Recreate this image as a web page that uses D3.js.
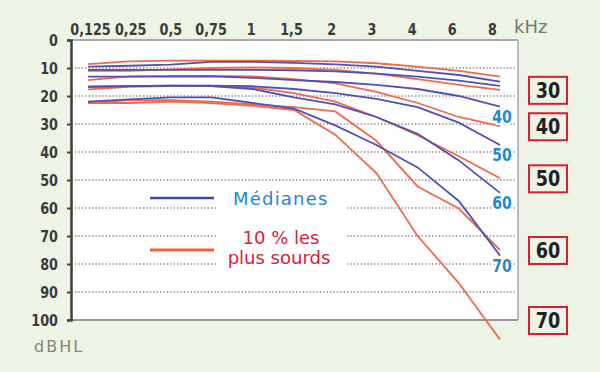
<!DOCTYPE html>
<html>
<head>
<meta charset="utf-8">
<script src="https://cdn.jsdelivr.net/npm/d3@7/dist/d3.min.js"></script>
<style>
  html, body { margin: 0; padding: 0; background: #edf4e6; }
  svg { display: block; }
  .cond { font-family: 'DejaVu Sans', sans-serif; font-weight: bold; }
</style>
</head>
<body>
<svg id="chart" width="600" height="372"></svg>
<script>
// ---- data ----
const freqLabels = ["0,125","0,25","0,5","0,75","1","1,5","2","3","4","6","8"];
const yTicks = [0,10,20,30,40,50,60,70,80,90,100];
const ageGroups = [20,30,40,50,60,70];

// Médianes (blue), dB HL per frequency
const median20 = [9.5, 9.2, 8.8, 7.8, 7.8, 8.2, 8.7, 9.5, 11, 12.5, 14.9];
const median30 = [10.7, 10.7, 10.7, 10.7, 10.7, 10.8, 11.2, 12, 13.1, 14.5, 16.4];
const median40 = [13.1, 13.1, 13.1, 13, 13.5, 14.3, 15, 16, 17.5, 20, 23.8];
const median50 = [16.7, 16.5, 16.3, 16.3, 16.5, 17.5, 19, 21, 24, 29.5, 37.5];
const median60 = [16.7, 16.5, 16.3, 16.5, 17.5, 20.5, 23, 27.5, 33.5, 43, 54.6];
const median70 = [22, 21.2, 20.5, 20.5, 22.5, 24.5, 30.5, 37.5, 45.5, 57.5, 77];

// 10 % les plus sourds (red)
const worst20 = [8.6, 7.6, 7.4, 7.4, 7.4, 7.5, 7.6, 8.3, 9.5, 11, 13.1];
const worst30 = [11, 11, 10.5, 10, 9.8, 10, 10.7, 12, 14, 16, 17.8];
const worst40 = [14.3, 13, 12.8, 12.8, 13, 14, 15.5, 18.5, 22.5, 27.5, 30.8];
const worst50 = [17.6, 16.7, 16.5, 16.5, 17, 19, 22, 27.5, 34, 41.5, 49.4];
const worst60 = [22.5, 21.5, 21.5, 22, 23, 24, 25.5, 36, 52.3, 60.2, 75];
const worst70 = [22.5, 22.5, 22, 22.5, 23.5, 25, 33.8, 47.5, 70, 86.8, 107];

const medians = [median20, median30, median40, median50, median60, median70];
const worsts  = [worst20, worst30, worst40, worst50, worst60, worst70];
const medianLabelAges = [40,50,60,70];
const boxAges = [30,40,50,60,70];

// ---- drawing ----
const svg = d3.select("#chart");
const xData = d3.scalePoint().domain(freqLabels).range([88, 500]);
const xTick = d3.scalePoint().domain(freqLabels).range([90, 492]);
const y = d3.scaleLinear().domain([0, 100]).range([40, 320]);

const plotL = 72, plotR = 518;
const SX = 0.8; // horizontal squeeze to imitate a condensed bold face

// plot background
svg.append("rect").attr("x", plotL).attr("y", y(0)).attr("width", plotR - plotL).attr("height", y(100) - y(0))
  .attr("fill", "#ffffff");

// grid
svg.append("g").selectAll("line").data(yTicks.filter(d => d > 0 && d < 100)).join("line")
  .attr("x1", plotL + 3).attr("x2", plotR - 2)
  .attr("y1", d => y(d)).attr("y2", d => y(d))
  .attr("stroke", "#8a8a8a").attr("stroke-width", 1.3).attr("stroke-dasharray", "1.4,2");

// borders
svg.append("line").attr("x1", plotL).attr("x2", plotR).attr("y1", y(0)).attr("y2", y(0))
  .attr("stroke", "#a9a9a9").attr("stroke-width", 2);
svg.append("line").attr("x1", plotR).attr("x2", plotR).attr("y1", y(0)).attr("y2", y(100))
  .attr("stroke", "#a9a9a9").attr("stroke-width", 1.5);
svg.append("line").attr("x1", plotL).attr("x2", plotR).attr("y1", y(100)).attr("y2", y(100))
  .attr("stroke", "#9a9a9a").attr("stroke-width", 2);

// white block behind legend text (interrupts grid)
svg.append("rect").attr("x", 216).attr("y", 187).attr("width", 131).attr("height", 83).attr("fill", "#ffffff");

// y axis
const yAxis = svg.append("g").attr("transform", `translate(${plotL - 1},0)`)
  .call(d3.axisLeft(y).tickValues(yTicks).tickSize(4).tickPadding(9));
yAxis.select(".domain").attr("stroke", "#444").attr("stroke-width", 2.6);
yAxis.selectAll(".tick line").attr("stroke", "#444").attr("stroke-width", 2);
yAxis.selectAll("text").attr("class", "cond").attr("font-size", 16).attr("fill", "#3a3a3a")
  .attr("x", -13 / SX).attr("transform", `scale(${SX},1)`);

// x axis (top labels)
const xAxis = svg.append("g").attr("transform", "translate(0,35)")
  .call(d3.axisTop(xTick).tickSize(0).tickPadding(0));
xAxis.select(".domain").remove();
xAxis.selectAll("text").attr("class", "cond").attr("font-size", 16).attr("fill", "#3a3a3a")
  .attr("transform", `scale(${SX},1)`);

svg.append("text").attr("x", 514).attr("y", 33).text("kHz")
  .attr("font-family", "'DejaVu Sans', sans-serif").attr("font-size", 18).attr("fill", "#6d7d66");
svg.append("text").attr("x", 34).attr("y", 352).text("dBHL")
  .attr("font-family", "'DejaVu Sans', sans-serif").attr("font-size", 16).attr("letter-spacing", 2)
  .attr("fill", "#7b8a74");

// lines
const line = d3.line().x((d, i) => xData(freqLabels[i])).y(d => y(d));
svg.append("g").selectAll("path").data(worsts).join("path")
  .attr("d", line).attr("fill", "none").attr("stroke", "#f06a4a").attr("stroke-width", 1.8);
svg.append("g").selectAll("path").data(medians).join("path")
  .attr("d", line).attr("fill", "none").attr("stroke", "#5050b8").attr("stroke-width", 1.8);

// median labels
const last = arr => arr[arr.length - 1];
svg.append("g").selectAll("g").data(medianLabelAges).join("g")
  .attr("transform", a => `translate(${xData(last(freqLabels)) + 2},${y(last(medians[ageGroups.indexOf(a)])) + 10})`)
  .append("text")
  .attr("class", "cond")
  .attr("transform", "scale(0.78,1)")
  .attr("dy", "0.35em").attr("text-anchor", "middle")
  .attr("font-size", 18).attr("fill", "#2188d4")
  .attr("stroke", "#ffffff").attr("stroke-width", 4).attr("paint-order", "stroke")
  .text(d => d);

// boxed age labels
const boxes = svg.append("g").selectAll("g").data(boxAges).join("g")
  .attr("transform", a => `translate(548,${y(Math.min(100, last(worsts[ageGroups.indexOf(a)])))})`);
boxes.append("rect").attr("x", -19).attr("y", -13).attr("width", 38).attr("height", 27)
  .attr("fill", "none").attr("stroke", "#d42030").attr("stroke-width", 2);
boxes.append("text").attr("class", "cond").attr("text-anchor", "middle").attr("dy", "0.36em")
  .attr("transform", "scale(0.8,1)")
  .attr("font-size", 22).attr("fill", "#222").text(d => d);

// legend
svg.append("line").attr("x1", 150).attr("x2", 214).attr("y1", 198).attr("y2", 198)
  .attr("stroke", "#3a4ca8").attr("stroke-width", 2.5);
svg.append("text").attr("x", 233).attr("y", 205).text("Médianes")
  .attr("font-family", "'DejaVu Sans', sans-serif").attr("font-size", 18).attr("letter-spacing", 1.2)
  .attr("fill", "#2188d4");
svg.append("line").attr("x1", 150).attr("x2", 214).attr("y1", 250).attr("y2", 250)
  .attr("stroke", "#f2603f").attr("stroke-width", 3);
const lt = svg.append("text").attr("text-anchor", "middle")
  .attr("font-family", "'DejaVu Sans', sans-serif").attr("font-size", 18).attr("fill", "#d8213b");
lt.append("tspan").attr("x", 281).attr("y", 244).text("10 % les");
lt.append("tspan").attr("x", 279).attr("y", 264).text("plus sourds");
</script>
</body>
</html>
